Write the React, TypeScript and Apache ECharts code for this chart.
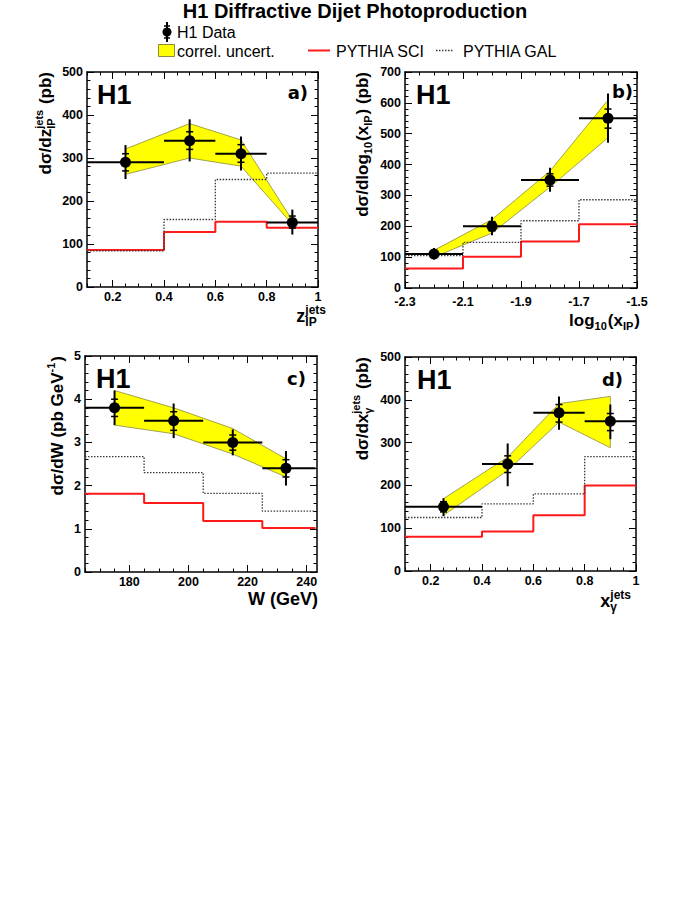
import React, { useEffect, useRef } from 'react';
import * as echarts from 'echarts';

// ---------- Panel a: z_IP^jets ----------
const zBins = [0.1, 0.4, 0.6, 0.8, 1.0];
const zX = [0.25, 0.5, 0.7, 0.9];
const zY = [290, 340, 310, 150];
const zStatLo = [270, 320, 290, 137];
const zStatHi = [310, 361, 331, 165];
const zTotLo = [251, 292, 271, 122];
const zTotHi = [330, 390, 350, 180];
const zBandLo = [262, 300, 281, 146];
const zBandHi = [321, 380, 342, 155];
const zSCI = [86, 128, 152, 138];
const zGAL = [84, 157, 250, 265];

// ---------- Panel b: log10(x_IP) ----------
const lBins = [-2.3, -2.1, -1.9, -1.7, -1.5];
const lX = [-2.2, -2.0, -1.8, -1.6];
const lY = [110, 200, 350, 550];
const lStatLo = [100, 185, 330, 518];
const lStatHi = [120, 215, 370, 580];
const lTotLo = [92, 171, 312, 471];
const lTotHi = [130, 231, 390, 630];
const lBandLo = [100, 178, 327, 487];
const lBandHi = [122, 222, 379, 609];
const lSCI = [63, 101, 151, 207];
const lGAL = [105, 148, 218, 286];

// ---------- Panel c: W ----------
const wBins = [165, 185, 205, 225, 243];
const wX = [175, 195, 215, 233];
const wY = [3.8, 3.5, 3.0, 2.4];
const wStatLo = [3.6, 3.28, 2.82, 2.2];
const wStatHi = [4.0, 3.71, 3.17, 2.6];
const wTotLo = [3.4, 3.1, 2.7, 2.0];
const wTotHi = [4.2, 3.9, 3.3, 2.8];
const wBandLo = [3.4, 3.2, 2.73, 2.2];
const wBandHi = [4.2, 3.8, 3.32, 2.62];
const wSCI = [1.81, 1.6, 1.18, 1.02];
const wGAL = [2.67, 2.3, 1.82, 1.41];

// ---------- Panel d: x_gamma^jets ----------
const gBins = [0.1, 0.4, 0.6, 0.8, 1.0];
const gX = [0.25, 0.5, 0.7, 0.9];
const gY = [150, 250, 370, 350];
const gStatLo = [138, 230, 348, 328];
const gStatHi = [162, 269, 389, 368];
const gTotLo = [128, 198, 330, 308];
const gTotHi = [170, 298, 408, 389];
const gBandLo = [130, 235, 348, 288];
const gBandHi = [169, 266, 391, 408];
const gSCI = [80, 92, 130, 200];
const gGAL = [125, 157, 180, 267];

// ---------- tick labels ----------
const zTicks = [0.2, 0.4, 0.6, 0.8, 1.0];
const lTicks = [-2.3, -2.1, -1.9, -1.7, -1.5];
const wTicks = [180, 200, 220, 240];
const gTicks = [0.2, 0.4, 0.6, 0.8, 1.0];
const y500Ticks = [0, 100, 200, 300, 400, 500];
const y700Ticks = [0, 100, 200, 300, 400, 500, 600, 700];
const y5Ticks = [0, 1, 2, 3, 4, 5];

const FONT = '"Liberation Sans", Arial, Helvetica, sans-serif';

function steps(a: number, b: number, s: number) {
  const out: number[] = [];
  const n = Math.round((b - a) / s);
  for (let i = 0; i <= n; i++) out.push(+(a + i * s).toFixed(6));
  return out;
}

const fmt1 = (v: number) => String(Math.round(v * 10) / 10);
const fmt0 = (v: number) => String(Math.round(v));

const panels = [
  {
    grid: { left: 87, top: 72, width: 231, height: 215 },
    x: { min: 0.1, max: 1.0, majors: zTicks, minors: steps(0.1, 1.0, 0.05), fmt: fmt1, margin: 3 },
    y: { min: 0, max: 500, majors: y500Ticks, minors: steps(0, 500, 20), fmt: fmt0, margin: 4 },
    bins: zBins, px: zX, py: zY, sLo: zStatLo, sHi: zStatHi, tLo: zTotLo, tHi: zTotHi,
    bLo: zBandLo, bHi: zBandHi, sci: zSCI, gal: zGAL,
  },
  {
    grid: { left: 405, top: 72, width: 232, height: 216 },
    x: { min: -2.3, max: -1.5, majors: lTicks, minors: steps(-2.3, -1.5, 0.05), fmt: (v: number) => v.toFixed(1), margin: 7 },
    y: { min: 0, max: 700, majors: y700Ticks, minors: steps(0, 700, 20), fmt: fmt0, margin: 4 },
    bins: lBins, px: lX, py: lY, sLo: lStatLo, sHi: lStatHi, tLo: lTotLo, tHi: lTotHi,
    bLo: lBandLo, bHi: lBandHi, sci: lSCI, gal: lGAL,
  },
  {
    grid: { left: 85, top: 356, width: 232, height: 216 },
    x: { min: 165, max: 243.5, majors: wTicks, minors: steps(165, 240, 5), fmt: fmt0, margin: 3 },
    y: { min: 0, max: 5, majors: y5Ticks, minors: steps(0, 5, 0.2), fmt: fmt0, margin: 4 },
    bins: wBins, px: wX, py: wY, sLo: wStatLo, sHi: wStatHi, tLo: wTotLo, tHi: wTotHi,
    bLo: wBandLo, bHi: wBandHi, sci: wSCI, gal: wGAL,
  },
  {
    grid: { left: 405, top: 357, width: 231, height: 214 },
    x: { min: 0.1, max: 1.0, majors: gTicks, minors: steps(0.1, 1.0, 0.05), fmt: fmt1, margin: 3 },
    y: { min: 0, max: 500, majors: y500Ticks, minors: steps(0, 500, 20), fmt: fmt0, margin: 4 },
    bins: gBins, px: gX, py: gY, sLo: gStatLo, sHi: gStatHi, tLo: gTotLo, tHi: gTotHi,
    bLo: gBandLo, bHi: gBandHi, sci: gSCI, gal: gGAL,
  },
];

function makeAxes(kind: 'x' | 'y', gridIndex: number, a: any) {
  const pos = kind === 'x' ? ['bottom', 'top'] : ['left', 'right'];
  const res: any[] = [];
  pos.forEach((p, pi) => {
    const main = pi === 0;
    res.push({
      type: 'value', gridIndex, position: p, min: a.min, max: a.max,
      axisLine: { show: true, onZero: false, lineStyle: { color: '#000', width: 1.5 } },
      axisTick: { show: true, inside: true, length: 7, customValues: a.majors, lineStyle: { color: '#000', width: 1 } },
      axisLabel: main
        ? { show: true, customValues: a.majors, formatter: a.fmt, color: '#000', fontWeight: 'bold', fontSize: 12.5, fontFamily: FONT, margin: a.margin }
        : { show: false },
      splitLine: { show: false },
    });
    res.push({
      type: 'value', gridIndex, position: p, min: a.min, max: a.max,
      axisLine: { show: false, onZero: false },
      axisTick: { show: true, inside: true, length: 3.5, customValues: a.minors, lineStyle: { color: '#000', width: 1 } },
      axisLabel: { show: false },
      splitLine: { show: false },
    });
  });
  return res;
}

// ---------- text measurement for composed titles ----------
let _ctx: CanvasRenderingContext2D | null = null;
function tw(text: string, size: number, weight = 'bold') {
  if (!_ctx) _ctx = document.createElement('canvas').getContext('2d');
  _ctx!.font = `${weight} ${size}px ${FONT}`;
  return _ctx!.measureText(text).width;
}

type Piece = { t?: string; sup?: string; sub?: string; size: number; sm?: number };
function composeText(pieces: Piece[], color = '#000') {
  const children: any[] = [];
  let x = 0;
  pieces.forEach((p) => {
    const S = p.size;
    const sm = p.sm || Math.round(S * 0.62);
    if (p.t) {
      children.push({ type: 'text', x, y: 0, style: { text: p.t, font: `bold ${S}px ${FONT}`, fill: color, textAlign: 'left', verticalAlign: 'middle' } });
      x += tw(p.t, S);
    } else {
      let w = 0;
      if (p.sup) {
        children.push({ type: 'text', x, y: -S * 0.36, style: { text: p.sup, font: `bold ${sm}px ${FONT}`, fill: color, textAlign: 'left', verticalAlign: 'middle' } });
        w = Math.max(w, tw(p.sup, sm));
      }
      if (p.sub) {
        children.push({ type: 'text', x, y: S * 0.34, style: { text: p.sub, font: `bold ${sm}px ${FONT}`, fill: color, textAlign: 'left', verticalAlign: 'middle' } });
        w = Math.max(w, tw(p.sub, sm));
      }
      x += w + 1;
    }
  });
  return { children, width: x };
}

function hTitle(pieces: Piece[], right: number, cy: number) {
  const { children, width } = composeText(pieces);
  return { type: 'group', x: right - width, y: cy, children };
}
function vTitle(pieces: Piece[], cx: number, top: number) {
  const { children, width } = composeText(pieces);
  return { type: 'group', x: cx, y: top + width, rotation: Math.PI / 2, children };
}

function buildOption() {
  const grid: any[] = [];
  const xAxis: any[] = [];
  const yAxis: any[] = [];
  const series: any[] = [];

  panels.forEach((P, i) => {
    grid.push({ ...P.grid, containLabel: false, show: false });
    xAxis.push(...makeAxes('x', i, P.x));
    yAxis.push(...makeAxes('y', i, P.y));
    const xi = 4 * i;
    const yi = 4 * i;

    // correlated uncertainty band
    const bandData = P.px.map((x, k) => [x, P.bLo[k], P.bHi[k]]);
    series.push({
      type: 'custom', xAxisIndex: xi, yAxisIndex: yi, z: 1, silent: true,
      data: bandData,
      encode: { x: 0, y: [1, 2] },
      renderItem: (params: any, api: any) => {
        if (params.dataIndex !== 0) return null;
        const top = bandData.map((d) => api.coord([d[0], d[2]]));
        const bot = bandData.map((d) => api.coord([d[0], d[1]])).reverse();
        return { type: 'polygon', shape: { points: top.concat(bot) }, style: { fill: '#ffff00', stroke: '#8c8c3c', lineWidth: 0.8 } };
      },
    });

    const histo = (vals: number[]) => {
      const pts: number[][] = [];
      vals.forEach((v, k) => { pts.push([P.bins[k], v]); pts.push([P.bins[k + 1], v]); });
      return pts;
    };
    series.push({
      type: 'line', xAxisIndex: xi, yAxisIndex: yi, z: 2, silent: true, symbol: 'none',
      data: histo(P.sci), lineStyle: { color: '#ff1a1a', width: 2 },
    });
    series.push({
      type: 'line', xAxisIndex: xi, yAxisIndex: yi, z: 3, silent: true, symbol: 'none',
      data: histo(P.gal), lineStyle: { color: '#3a3a3a', width: 1.3, type: [1.5, 1.5] },
    });

    // data points
    const ptData = P.px.map((x, k) => [x, P.py[k], P.bins[k], P.bins[k + 1], P.tLo[k], P.tHi[k], P.sLo[k], P.sHi[k]]);
    series.push({
      type: 'custom', xAxisIndex: xi, yAxisIndex: yi, z: 5, silent: true,
      data: ptData,
      encode: { x: [0, 2, 3], y: [1, 4, 5, 6, 7] },
      renderItem: (params: any, api: any) => {
        const x = api.value(0), y = api.value(1);
        const c = api.coord([x, y]);
        const l = api.coord([api.value(2), y]);
        const r = api.coord([api.value(3), y]);
        const tl = api.coord([x, api.value(4)]);
        const th = api.coord([x, api.value(5)]);
        const sl = api.coord([x, api.value(6)]);
        const sh = api.coord([x, api.value(7)]);
        const st = { stroke: '#000', lineWidth: 2 };
        return {
          type: 'group',
          children: [
            { type: 'line', shape: { x1: l[0], y1: c[1], x2: r[0], y2: c[1] }, style: st },
            { type: 'line', shape: { x1: c[0], y1: th[1], x2: c[0], y2: tl[1] }, style: st },
            { type: 'line', shape: { x1: c[0] - 3.5, y1: sh[1], x2: c[0] + 3.5, y2: sh[1] }, style: { stroke: '#000', lineWidth: 1.5 } },
            { type: 'line', shape: { x1: c[0] - 3.5, y1: sl[1], x2: c[0] + 3.5, y2: sl[1] }, style: { stroke: '#000', lineWidth: 1.5 } },
            { type: 'circle', shape: { cx: c[0], cy: c[1], r: 5.5 }, style: { fill: '#000' } },
          ],
        };
      },
    });
  });

  const txt = (text: string, x: number, y: number, size: number, weight = 'normal', align = 'left', family = FONT) => ({
    type: 'text', x, y, silent: true,
    style: { text, font: `${weight} ${size}px ${family}`, fill: '#000', textAlign: align, verticalAlign: 'middle' },
  });

  const graphic: any[] = [
    txt('H1 Diffractive Dijet Photoproduction', 355, 11, 20, 'bold', 'center'),
    // legend
    { type: 'line', shape: { x1: 167, y1: 22, x2: 167, y2: 42 }, style: { stroke: '#000', lineWidth: 2 } },
    { type: 'line', shape: { x1: 164, y1: 26, x2: 170, y2: 26 }, style: { stroke: '#000', lineWidth: 1.5 } },
    { type: 'line', shape: { x1: 164, y1: 38, x2: 170, y2: 38 }, style: { stroke: '#000', lineWidth: 1.5 } },
    { type: 'circle', shape: { cx: 167, cy: 32, r: 4.5 }, style: { fill: '#000' } },
    txt('H1 Data', 177, 32, 16),
    { type: 'rect', shape: { x: 158.5, y: 44.5, width: 16, height: 12 }, style: { fill: '#ffff00', stroke: '#8c8c3c', lineWidth: 1 } },
    txt('correl. uncert.', 177, 51, 16),
    { type: 'line', shape: { x1: 308, y1: 50.5, x2: 330, y2: 50.5 }, style: { stroke: '#ff1a1a', lineWidth: 2 } },
    txt('PYTHIA SCI', 336, 51, 16),
    { type: 'line', shape: { x1: 436, y1: 50.5, x2: 454, y2: 50.5 }, style: { stroke: '#3a3a3a', lineWidth: 1.3, lineDash: [1.5, 1.5] } },
    txt('PYTHIA GAL', 463, 51, 16),
    // H1 labels
    txt('H1', 97, 95, 27, 'bold'),
    txt('H1', 416, 95, 27, 'bold'),
    txt('H1', 96, 379, 27, 'bold'),
    txt('H1', 417, 380, 27, 'bold'),
    // panel tags
    txt('a)', 308, 92, 18, 'bold', 'right', '"DejaVu Sans", sans-serif'),
    txt('b)', 633, 91, 18, 'bold', 'right', '"DejaVu Sans", sans-serif'),
    txt('c)', 306, 378, 18, 'bold', 'right', '"DejaVu Sans", sans-serif'),
    txt('d)', 623, 379, 18, 'bold', 'right', '"DejaVu Sans", sans-serif'),
    // x titles
    hTitle([{ t: 'z', size: 18 }, { sup: 'jets', sub: 'IP', size: 18, sm: 12 }], 327, 316),
    hTitle([{ t: 'log', size: 17 }, { sub: '10', size: 17, sm: 11 }, { t: '(x', size: 17 }, { sub: 'IP', size: 17, sm: 11 }, { t: ')', size: 17 }], 640, 320),
    txt('W (GeV)', 318, 599, 18, 'bold', 'right'),
    hTitle([{ t: 'x', size: 18 }, { sup: 'jets', sub: 'γ', size: 18, sm: 12 }], 632, 601),
    // y titles
    vTitle([{ t: 'dσ/dz', size: 17 }, { sup: 'jets', sub: 'IP', size: 17, sm: 11 }, { t: ' (pb)', size: 17 }], 45, 72),
    vTitle([{ t: 'dσ/dlog', size: 17 }, { sub: '10', size: 17, sm: 11 }, { t: '(x', size: 17 }, { sub: 'IP', size: 17, sm: 11 }, { t: ') (pb)', size: 17 }], 362, 72),
    vTitle([{ t: 'dσ/dW (pb GeV', size: 17 }, { sup: '-1', size: 17, sm: 11 }, { t: ')', size: 17 }], 57, 356),
    vTitle([{ t: 'dσ/dx', size: 17 }, { sup: 'jets', sub: 'γ', size: 17, sm: 11 }, { t: ' (pb)', size: 17 }], 362, 357),
  ];

  return {
    animation: false,
    backgroundColor: '#fff',
    textStyle: { fontFamily: FONT },
    grid, xAxis, yAxis, series, graphic,
  };
}

export default function App() {
  const ref = useRef<HTMLDivElement>(null);
  useEffect(() => {
    if (!ref.current) return;
    const chart = echarts.init(ref.current, undefined, { renderer: 'svg' });
    chart.setOption(buildOption() as any);
    return () => chart.dispose();
  }, []);
  return <div ref={ref} style={{ position: 'fixed', left: 0, top: 0, width: 698, height: 903, background: '#fff' }} />;
}
